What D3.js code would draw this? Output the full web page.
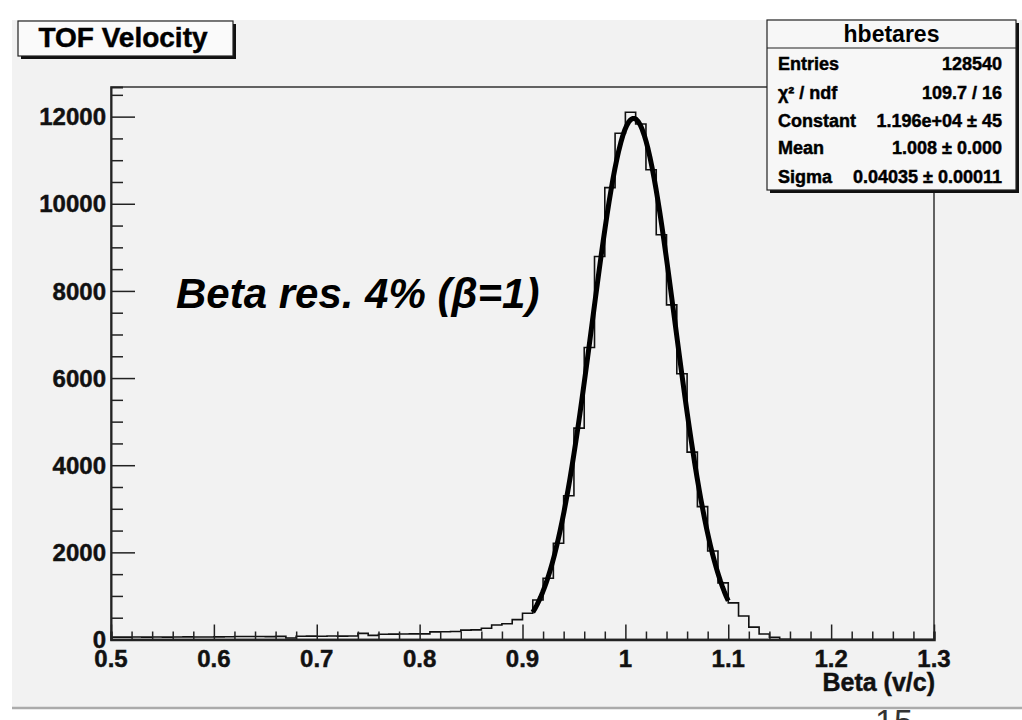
<!DOCTYPE html>
<html>
<head>
<meta charset="utf-8">
<script src="https://cdn.jsdelivr.net/npm/d3@7"></script>
<style>
  html, body { margin: 0; padding: 0; background: #ffffff; }
  svg { display: block; }
  text { font-family: "Liberation Sans", Arial, Helvetica, sans-serif; }
  text.heavy { stroke: currentColor; stroke-width: 0.45px; }
</style>
</head>
<body>
<svg id="chart" width="1022" height="720"></svg>
<script>
// Histogram: counts per 0.01-wide bin of beta, starting at 0.50
const binLow = 0.5;
const binWidth = 0.01;
const counts = [
  55, 55, 58, 55, 57, 55, 58, 60, 56, 58,          // 0.50 - 0.59
  60, 62, 70, 68, 70, 66, 72, 35, 75, 78,          // 0.60 - 0.69
  76, 80, 78, 82, 140, 95, 120, 124, 126, 128,     // 0.70 - 0.79
  130, 175, 178, 182, 215, 220, 257, 333, 360, 455, // 0.80 - 0.89
  601, 906, 1405, 2210, 3300, 4850, 6700, 8790, 10370, 11620, // 0.90 - 0.99
  12100, 11830, 10780, 9290, 7680, 6100, 4300, 3050, 2030, 1300, // 1.00 - 1.09
  840, 540, 285, 126, 50, 6, 0, 0, 0, 0,           // 1.10 - 1.19
  0, 0, 0, 0, 0, 0, 0, 0, 0, 0                     // 1.20 - 1.29
];

// Gaussian fit results (from the statistics box)
const fitConstant = 1.196e4;
const fitMean = 1.008;
const fitSigma = 0.04035;
const fitRange = [0.91, 1.10];

// Axis ticks
const xMajorTicks = [0.5, 0.6, 0.7, 0.8, 0.9, 1.0, 1.1, 1.2, 1.3];
const xTickLabels = ["0.5", "0.6", "0.7", "0.8", "0.9", "1", "1.1", "1.2", "1.3"];
const yMajorTicks = [0, 2000, 4000, 6000, 8000, 10000, 12000];
const yTickLabels = ["0", "2000", "4000", "6000", "8000", "10000", "12000"];

// Statistics box rows
const statsTitle = "hbetares";
const statsLabels = ["Entries", "\u03C7\u00B2 / ndf", "Constant", "Mean", "Sigma"];
const statsValues = ["128540", "109.7 / 16", "1.196e+04 \u00B1 45", "1.008 \u00B1 0.000", "0.04035 \u00B1 0.00011"];

const histTitle = "TOF Velocity";
const xAxisTitle = "Beta (v/c)";
const annotation = "Beta res. 4% (\u03B2=1)";
const pageNumber = "15";

const svg = d3.select("#chart");

const frame = { left: 111, right: 934, top: 87, bottom: 639.5 };
const x = d3.scaleLinear().domain([0.5, 1.3]).range([frame.left, frame.right]);
const y = d3.scaleLinear().domain([0, 12680]).range([frame.bottom, frame.top]);

// page number peeking out under the canvas
svg.append("text")
  .attr("x", 875).attr("y", 733)
  .attr("font-size", 34)
  .attr("fill", "#333")
  .text(pageNumber);

// canvas background
svg.append("rect")
  .attr("x", 12).attr("y", 20).attr("width", 1010).attr("height", 687)
  .attr("fill", "#f2f2f2");
svg.append("line")
  .attr("x1", 12).attr("x2", 1022).attr("y1", 708).attr("y2", 708)
  .attr("stroke", "#ababab").attr("stroke-width", 2.5);

// histogram outline
const steps = [];
counts.forEach((c, i) => {
  const x0 = binLow + i * binWidth;
  const x1 = x0 + binWidth;
  steps.push([x0, c], [x1, c]);
});
const histPath = d3.line().x(d => x(d[0])).y(d => y(d[1]));
svg.append("path")
  .attr("d", histPath(steps))
  .attr("fill", "none")
  .attr("stroke", "#111")
  .attr("stroke-width", 1.6);

// Gaussian fit curve
const fitPts = d3.range(0, 101).map(k => {
  const xv = fitRange[0] + (fitRange[1] - fitRange[0]) * k / 100;
  const z = (xv - fitMean) / fitSigma;
  return [xv, fitConstant * Math.exp(-0.5 * z * z)];
});
svg.append("path")
  .attr("d", d3.line().x(d => x(d[0])).y(d => y(d[1]))(fitPts))
  .attr("fill", "none")
  .attr("stroke", "#000")
  .attr("stroke-width", 5)
  .attr("stroke-linejoin", "round");

// frame
svg.append("rect")
  .attr("x", frame.left).attr("y", frame.top)
  .attr("width", frame.right - frame.left).attr("height", frame.bottom - frame.top)
  .attr("fill", "none").attr("stroke", "#333").attr("stroke-width", 1.5);

// x axis (ticks point up into the frame)
const xAxis = d3.axisTop(x)
  .tickValues(d3.range(0, 41).map(k => 0.5 + k * 0.02))
  .tickSize(8)
  .tickFormat("");
const gx = svg.append("g").attr("transform", `translate(0,${frame.bottom})`).call(xAxis);
gx.selectAll(".tick line")
  .attr("y2", d => (Math.round(d * 100) % 10 === 0 ? -15 : -8));
gx.selectAll("line").attr("stroke", "#222").attr("stroke-width", 1.5);
gx.select(".domain").attr("stroke", "#222").attr("stroke-width", 2.5);

svg.append("g").selectAll("text")
  .data(xMajorTicks)
  .join("text")
  .attr("class", "heavy")
  .attr("x", d => x(d))
  .attr("y", 667)
  .attr("text-anchor", "middle")
  .attr("font-size", 24)
  .attr("font-weight", "bold")
  .style("color", "#111")
  .attr("fill", "#111")
  .text((d, i) => xTickLabels[i]);

// y axis (ticks point right into the frame)
const yAxis = d3.axisRight(y)
  .tickValues(d3.range(0, 26).map(k => k * 500))
  .tickSize(12)
  .tickFormat("");
const gy = svg.append("g").attr("transform", `translate(${frame.left},0)`).call(yAxis);
gy.selectAll(".tick line")
  .attr("x2", d => (d % 2000 === 0 ? 24 : 12));
gy.selectAll("line").attr("stroke", "#222").attr("stroke-width", 1.5);
gy.select(".domain").attr("stroke", "#222").attr("stroke-width", 2);

svg.append("g").selectAll("text")
  .data(yMajorTicks)
  .join("text")
  .attr("class", "heavy")
  .attr("x", 106)
  .attr("y", d => y(d))
  .attr("dy", "0.36em")
  .attr("text-anchor", "end")
  .attr("font-size", 24)
  .attr("font-weight", "bold")
  .style("color", "#111")
  .attr("fill", "#111")
  .text((d, i) => yTickLabels[i]);

// x axis title
svg.append("text")
  .attr("class", "heavy")
  .attr("x", 935).attr("y", 691)
  .attr("text-anchor", "end")
  .attr("font-size", 25)
  .attr("font-weight", "bold")
  .style("color", "#111")
  .attr("fill", "#111")
  .text(xAxisTitle);

// annotation
svg.append("text")
  .attr("x", 176).attr("y", 308)
  .attr("font-size", 42)
  .attr("font-weight", "bold")
  .attr("font-style", "italic")
  .attr("fill", "#000")
  .text(annotation);

// title box with shadow
svg.append("rect").attr("x", 21).attr("y", 24).attr("width", 215).attr("height", 35).attr("fill", "#111");
svg.append("rect").attr("x", 18).attr("y", 21).attr("width", 215).attr("height", 35)
  .attr("fill", "#fafafa").attr("stroke", "#222").attr("stroke-width", 1.2);
svg.append("text")
  .attr("class", "heavy")
  .attr("x", 123).attr("y", 47)
  .attr("text-anchor", "middle")
  .attr("font-size", 28)
  .attr("font-weight", "bold")
  .style("color", "#000")
  .attr("fill", "#000")
  .text(histTitle);

// statistics box with shadow
const sb = { x: 767, y: 20, w: 249, h: 170 };
svg.append("rect").attr("x", sb.x + 3).attr("y", sb.y + 3).attr("width", sb.w).attr("height", sb.h).attr("fill", "#111");
svg.append("rect").attr("x", sb.x).attr("y", sb.y).attr("width", sb.w).attr("height", sb.h)
  .attr("fill", "#f7f7f7").attr("stroke", "#222").attr("stroke-width", 1.2);
svg.append("line")
  .attr("x1", sb.x).attr("x2", sb.x + sb.w).attr("y1", 48).attr("y2", 48)
  .attr("stroke", "#222").attr("stroke-width", 1.2);
svg.append("text")
  .attr("x", sb.x + sb.w / 2).attr("y", 42)
  .attr("text-anchor", "middle")
  .attr("font-size", 23)
  .attr("font-weight", "bold")
  .attr("fill", "#000")
  .text(statsTitle);

const rowY = [70, 99, 127, 154, 183];
const rows = svg.append("g");
rows.selectAll("text.lab")
  .data(statsLabels)
  .join("text")
  .attr("class", "lab heavy")
  .attr("x", 778)
  .attr("y", (d, i) => rowY[i])
  .attr("font-size", 18)
  .attr("font-weight", "bold")
  .style("color", "#000")
  .attr("fill", "#000")
  .text(d => d);
rows.selectAll("text.val")
  .data(statsValues)
  .join("text")
  .attr("class", "val heavy")
  .attr("x", 1002)
  .attr("y", (d, i) => rowY[i])
  .attr("text-anchor", "end")
  .attr("font-size", 18)
  .attr("font-weight", "bold")
  .style("color", "#000")
  .attr("fill", "#000")
  .text(d => d);
</script>
</body>
</html>
